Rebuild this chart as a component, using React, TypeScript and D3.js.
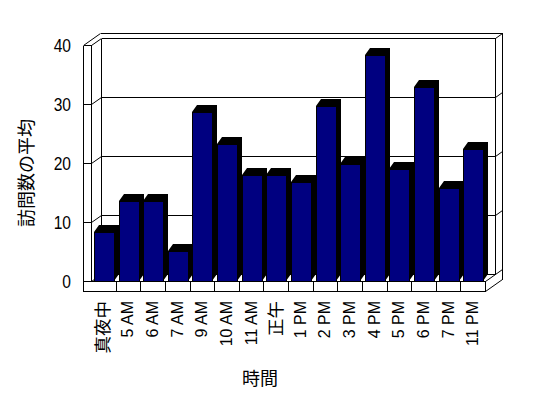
import React from "react";
import * as d3 from "d3";

const categories = ["真夜中", "5 AM", "6 AM", "7 AM", "9 AM", "10 AM", "11 AM", "正午", "1 PM", "2 PM", "3 PM", "4 PM", "5 PM", "6 PM", "7 PM", "11 PM"];
const values = [8.3, 13.6, 13.6, 5.1, 28.7, 23.2, 18.0, 18.0, 16.8, 29.7, 19.9, 38.3, 19.0, 32.9, 15.8, 22.4];
const yTicks = [0, 10, 20, 30, 40];
const yTitle = "訪問数の平均";
const xTitle = "時間";

const LAT = "'Liberation Sans', Arial, 'Noto Sans CJK JP', sans-serif";
const CJK = /[\u3000-\u9fff]/;

export default function App() {
  const fx0 = 91, fx1 = 485; // front plot left/right
  const dX = 10, dY = -7; // plot depth
  const tX = 7, tY = -5; // wall thickness
  const y = d3.scaleLinear().domain([0, 40]).range([281, 45]);
  const x = d3.scaleBand<string>().domain(categories).range([fx0, fx1]).padding(0);
  const step = x.bandwidth();
  const floorBottom = 291;
  const wallL = 83;
  const bx = 5, by = -7; // bar depth
  const p = (v: number) => Math.round(v) + 0.5;

  const lines: [number, number, number, number][] = [];
  // gridlines
  yTicks.forEach((t) => {
    const fy = y(t);
    const byy = fy + dY;
    lines.push([fx0 + dX, byy, fx1 + dX, byy]);
    lines.push([fx0, fy, fx0 + dX, byy]);
    lines.push([wallL, fy, fx0, fy]);
    lines.push([fx1 + dX, byy, fx1 + dX + tX, byy + tY]);
  });
  const top = y(40);
  // walls outline
  lines.push([wallL, top, fx0, top]);
  lines.push([wallL, top, wallL + dX + tX, top + dY + tY]);
  lines.push([fx0 + dX - 1, top + dY + tY, fx1 + dX + tX, top + dY + tY]);
  lines.push([wallL, top, wallL, floorBottom]);
  lines.push([fx0, top, fx0, y(0)]);
  lines.push([fx0 + dX, top + dY, fx0 + dX, y(0) + dY]);
  lines.push([fx1 + dX, top + dY, fx1 + dX, y(0) + dY]);
  lines.push([fx1 + dX + tX, top + dY + tY, fx1 + dX + tX, floorBottom + dY + tY]);
  // floor
  lines.push([wallL, y(0), fx1, y(0)]);
  lines.push([wallL, floorBottom, fx1, floorBottom]);
  lines.push([fx1, y(0), fx1, floorBottom]);
  lines.push([fx1, floorBottom, fx1 + dX + tX, floorBottom + dY + tY]);
  lines.push([fx1, y(0), fx1 + dX, y(0) + dY]);
  categories.forEach((c, i) => {
    if (i > 0) {
      const xx = x(c)!;
      lines.push([xx, y(0), xx, floorBottom]);
    }
  });

  return (
    <svg width={548} height={398} style={{ position: "absolute", left: 0, top: 0, background: "#fff" }}>
      <g stroke="#000" strokeWidth={1} shapeRendering="crispEdges" fill="none">
        {lines.map((l, i) => (
          <line key={i} x1={p(l[0])} y1={p(l[1])} x2={p(l[2])} y2={p(l[3])} shapeRendering={l[1] === l[3] || l[0] === l[2] ? "crispEdges" : "auto"} />
        ))}
      </g>
      <g>
        {categories.map((c, i) => {
          const x0 = Math.round(x(c)! + step * 0.12);
          const x1 = Math.round(x0 + step * 0.8);
          const t = Math.round(y(values[i]));
          const b = Math.round(y(0));
          return (
            <g key={c}>
              <polygon points={`${x0},${t} ${x0 + bx},${t + by} ${x1 + bx},${t + by} ${x1 + bx},${b + by} ${x1},${b} ${x1},${t}`} fill="#000" />
              <rect x={x0} y={t} width={x1 - x0} height={b - t} fill="#000080" stroke="#000" strokeWidth={1} shapeRendering="crispEdges" />
            </g>
          );
        })}
      </g>
      <g fontFamily={LAT} fill="#000">
        {yTicks.map((t) => (
          <text key={t} transform={`translate(71,${y(t)}) scale(0.82,1)`} textAnchor="end" dominantBaseline="central" fontSize={19}>
            {t}
          </text>
        ))}
        {categories.map((c) => {
          const cx = x(c)! + step / 2;
          const cjk = CJK.test(c);
          return (
            <text key={c} transform={`translate(${cx},301) rotate(-90)`} textAnchor="end" dominantBaseline="central" fontSize={cjk ? 17.5 : 16}>
              {c}
            </text>
          );
        })}
        <text transform="translate(25,173) rotate(-90)" textAnchor="middle" dominantBaseline="central" fontSize={18} fontFamily="'Noto Sans CJK JP', sans-serif">
          {yTitle}
        </text>
        <text x={260} y={377} textAnchor="middle" dominantBaseline="central" fontSize={18} fontFamily="'Noto Sans CJK JP', sans-serif">
          {xTitle}
        </text>
      </g>
    </svg>
  );
}
